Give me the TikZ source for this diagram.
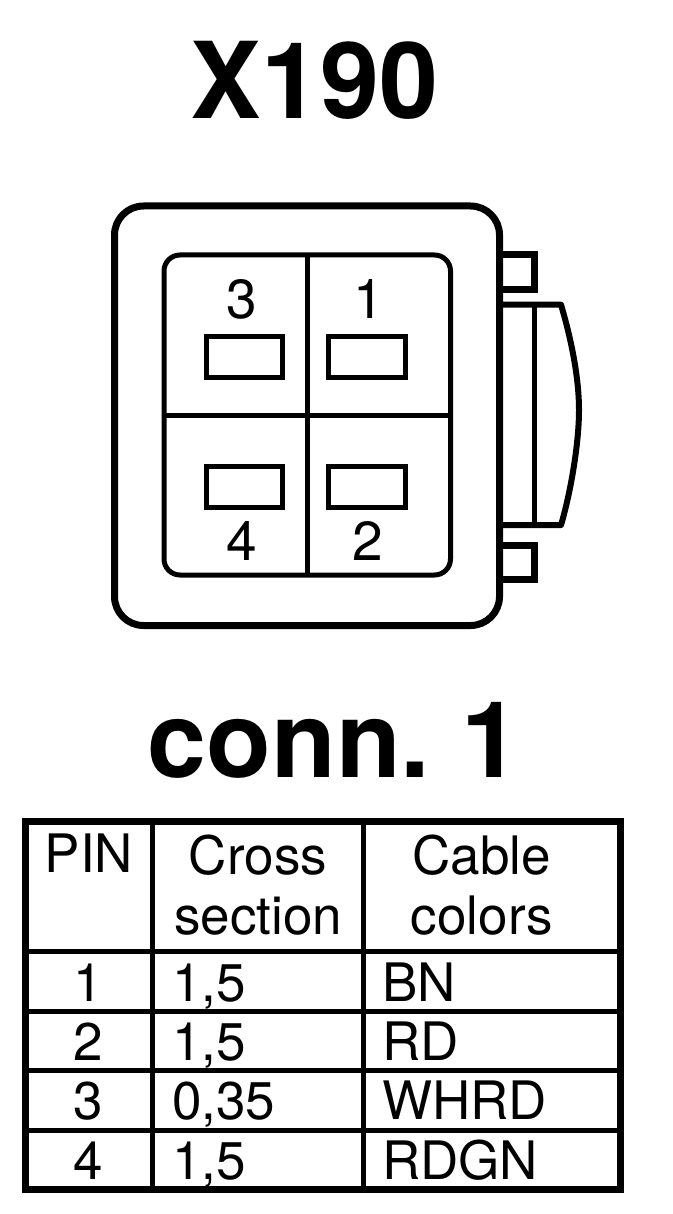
\documentclass[tikz,border=0pt]{standalone}
\usepackage{fontspec}
\setmainfont{TeX Gyre Heros}
\tikzset{
	heavy/.style={line width=7pt},
	thin line/.style={line width=5pt},
	titletext/.style={font=\fontsize{106}{110}\selectfont\bfseries,inner sep=0pt,anchor=base},
	pintext/.style={font=\fontsize{55}{60}\selectfont,inner sep=0pt,anchor=base},
	celltext/.style={font=\fontsize{53}{60}\selectfont,inner sep=0pt,anchor=base},
	headtext/.style={font=\fontsize{53}{60}\selectfont,inner sep=0pt,align=center,anchor=center},
}
\begin{document}
\begin{tikzpicture}[x=1pt,y=-1pt]
	\useasboundingbox (0,0) rectangle (672,1214);
	\path (114.5,206) coordinate (O_1)
	(499.5,625.5) coordinate (O_2)
	(164,255) coordinate (I_1)
	(450.5,575) coordinate (I_2)
	(307,255) coordinate (V_1)
	(307,575) coordinate (V_2)
	(164,415) coordinate (H_1)
	(450.5,415) coordinate (H_2);
	\node[titletext] (title) at (314.7,118.7) {X190};
	% housing
	\draw[heavy,rounded corners=29pt] (O_1) rectangle (O_2);
	\draw[thin line,rounded corners=16pt] (I_1) rectangle (I_2);
	\draw[thin line] (V_1)--(V_2) (H_1)--(H_2);
	\foreach \x/\y/\n in {206/336.5/a, 328.5/336.5/b, 206/466.5/c, 328.5/466.5/d}{
		\draw[thin line] (\x,\y) rectangle ++(76.5,41);
	}
	\foreach \x/\y/\t in {241.7/319/3, 369/319/1, 241.7/560.5/4, 368/560.5/2}{
		\node[pintext] (pin\t) at (\x,\y) {\t};
	}
	% side tabs
	\draw[heavy] (O_2|-0,255)--(534,255)--(534,289.5)--(O_2|-0,289.5);
	\draw[heavy] (O_2|-0,545)--(534,545)--(534,579)--(O_2|-0,579);
	\draw[line width=6pt,line join=round] (O_2|-0,304.7)--(561,304.7)
		.. controls (570,335) and (579,375) .. (579,410)
		.. controls (579,445) and (570,495) .. (561,525)--(O_2|-0,525);
	\draw[line width=4.5pt] (534.7,304.7)--(534.7,525);
	\node[titletext] (conn) at (334,777.7) {conn.\hspace{-8pt} 1};
	% table
	\path (25.5,821.7) coordinate (T_1) (620,1189.3) coordinate (T_2);
	\draw[heavy] (T_1) rectangle (T_2);
	\foreach \y in {951.5,1011,1070.3,1130}{
		\draw[thin line] (T_1|-0,\y)--(T_2|-0,\y);
	}
	\foreach \x in {152.7,363}{
		\draw[thin line] (\x,821.7)--(\x,1189.3);
	}
	\node[celltext] (pinhead) at (89,872.7) {PIN};
	\node[headtext] (crosshead) at (258,885) {Cross\\section};
	\node[headtext] (cablehead) at (481.7,885) {Cable\\colors};
	\foreach \y/\p/\s/\c in {1001/1/{1,5}/BN, 1060/2/{1,5}/RD, 1119.3/3/{0,35}/WHRD, 1179/4/{1,5}/RDGN}{
		\node[celltext] (p\p) at (88,\y) {\p};
		\node[celltext,anchor=base west] (s\p) at (172,\y) {\s};
		\node[celltext,anchor=base west] (c\p) at (382,\y) {\c};
	}
\end{tikzpicture}
\end{document}
